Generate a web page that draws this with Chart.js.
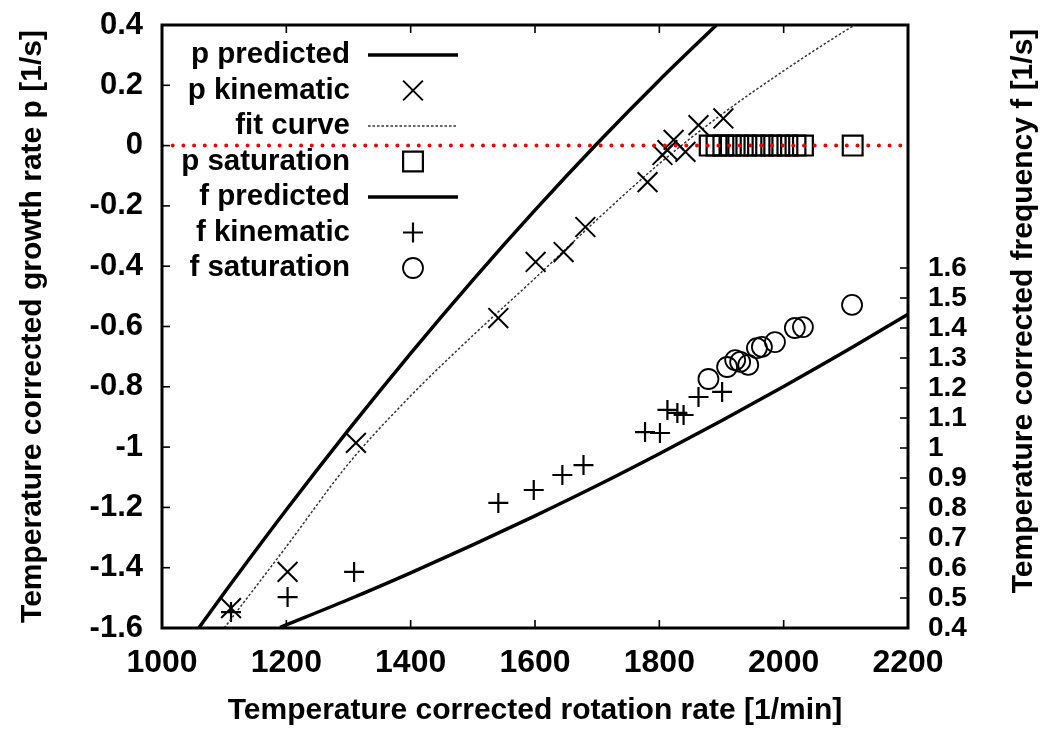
<!DOCTYPE html>
<html>
<head>
<meta charset="utf-8">
<script src="https://cdn.jsdelivr.net/npm/chart.js@4"></script>
<style>
    body {
        margin: 0;
        background: #ffffff;
    }

    #wrap {
        width: 1045px;
        height: 729px;
    }
</style>
</head>
<body>
<div id="wrap">
    <canvas id="growthChart"></canvas>
</div>
<script>

// rotation rate [1/min] vs growth rate p (left) and frequency f (right)

const rateTicks = [1000, 1200, 1400, 1600, 1800, 2000, 2200];
const growthTicks = [0.4, 0.2, 0, -0.2, -0.4, -0.6, -0.8, -1, -1.2, -1.4, -1.6];
const freqTicks = [0.4, 0.5, 0.6, 0.7, 0.8, 0.9, 1, 1.1, 1.2, 1.3, 1.4, 1.5, 1.6];

const pPredictedRate = [1050, 1100, 1200, 1300, 1400, 1500, 1600, 1700, 1800, 1900];
const pPredictedValue = [-1.626, -1.484, -1.208, -0.943, -0.689, -0.446, -0.214, 0.007, 0.217, 0.416];

const pKinematicRate = [1111, 1202, 1312, 1541, 1601, 1646, 1681, 1781, 1805, 1813, 1823, 1842, 1863, 1903];
const pKinematicValue = [-1.534, -1.414, -0.986, -0.572, -0.386, -0.353, -0.27, -0.121, -0.031, -0.015, 0.019, -0.021, 0.068, 0.09];

const fitRate = [1100, 1200, 1300, 1400, 1500, 1600, 1700, 1800, 1900, 2000, 2100, 2120];
const fitValue = [-1.6, -1.33, -1.055, -0.83, -0.63, -0.44, -0.245, -0.06, 0.103, 0.248, 0.382, 0.407];

const pSaturationRate = [1881, 1892, 1903, 1915, 1927, 1940, 1953, 1966, 1980, 1993, 2006, 2019, 2031, 2111];
const pSaturationValue = [0, 0, 0, 0, 0, 0, 0, 0, 0, 0, 0, 0, 0, 0];

const fPredictedRate = [1190, 1300, 1400, 1500, 1600, 1700, 1800, 1900, 2000, 2100, 2200];
const fPredictedValue = [0.402, 0.495, 0.584, 0.677, 0.774, 0.875, 0.981, 1.091, 1.205, 1.323, 1.446];

const fKinematicRate = [1111, 1202, 1309, 1541, 1598, 1644, 1678, 1777, 1801, 1813, 1829, 1839, 1863, 1901];
const fKinematicValue = [0.453, 0.503, 0.587, 0.817, 0.86, 0.91, 0.943, 1.053, 1.05, 1.127, 1.117, 1.11, 1.17, 1.187];

const fSaturationRate = [1879, 1909, 1922, 1930, 1943, 1957, 1965, 1986, 2018, 2031, 2110];
const fSaturationValue = [1.23, 1.27, 1.293, 1.287, 1.277, 1.333, 1.337, 1.353, 1.40, 1.403, 1.477];

const zeroLineRate = [1000, 2200];
const zeroLineValue = [0, 0];

const FONT = "'Liberation Sans', Arial, Helvetica, sans-serif";

function toPoints(xs, ys) {
    return xs.map((x, i) => ({ x: x, y: ys[i] }));
}

function tenths(v) {
    return String(Math.round(v * 10) / 10);
}

// gnuplot style frame, inward ticks, legend and right title
const framePlugin = {
    id: "framePlugin",

    afterDraw(chart) {
        const ctx = chart.ctx;
        const area = chart.chartArea;
        const xs = chart.scales.x;
        const yl = chart.scales.y;
        const yr = chart.scales.y2;

        ctx.save();
        ctx.strokeStyle = "#000";
        ctx.lineWidth = 1.6;

        rateTicks.forEach(v => {
            const px = xs.getPixelForValue(v);
            ctx.beginPath();
            ctx.moveTo(px, area.bottom);
            ctx.lineTo(px, area.bottom - 8);
            ctx.moveTo(px, area.top);
            ctx.lineTo(px, area.top + 8);
            ctx.stroke();
        });

        growthTicks.forEach(v => {
            const py = yl.getPixelForValue(v);
            ctx.beginPath();
            ctx.moveTo(area.left, py);
            ctx.lineTo(area.left + 8, py);
            ctx.stroke();
        });

        freqTicks.forEach(v => {
            const py = yr.getPixelForValue(v);
            ctx.beginPath();
            ctx.moveTo(area.right, py);
            ctx.lineTo(area.right - 8, py);
            ctx.stroke();
        });

        ctx.lineWidth = 3;
        ctx.strokeRect(
            area.left,
            area.top,
            area.right - area.left,
            area.bottom - area.top
        );

        // right axis title, reading bottom to top
        ctx.save();
        ctx.translate(1024, 311);
        ctx.rotate(-Math.PI / 2);
        ctx.fillStyle = "#000";
        ctx.font = "bold 30px " + FONT;
        ctx.textAlign = "center";
        ctx.textBaseline = "middle";
        ctx.fillText("Temperature corrected frequency f [1/s]", 0, 0);
        ctx.restore();

        // legend
        const rowTop = 55;
        const rowStep = 35.5;
        const textRight = 350;
        const sampleLeft = 368;
        const sampleRight = 458;
        const markX = 413;

        chart.data.datasets
            .filter(ds => ds.label)
            .forEach((ds, i) => {
                const y = rowTop + i * rowStep;

                ctx.fillStyle = "#000";
                ctx.font = "bold 29.5px " + FONT;
                ctx.textAlign = "right";
                ctx.textBaseline = "middle";
                ctx.fillText(ds.label, textRight, y);

                if (ds.showLine) {
                    ctx.save();
                    ctx.strokeStyle = ds.borderColor;
                    ctx.lineWidth = ds.borderWidth;
                    ctx.setLineDash(ds.borderDash || []);
                    ctx.beginPath();
                    ctx.moveTo(sampleLeft, y);
                    ctx.lineTo(sampleRight, y);
                    ctx.stroke();
                    ctx.restore();
                } else {
                    ctx.save();
                    ctx.strokeStyle = "#000";
                    ctx.fillStyle = "rgba(0,0,0,0)";
                    ctx.lineWidth = ds.borderWidth;
                    Chart.helpers.drawPoint(
                        ctx,
                        {
                            pointStyle: ds.pointStyle,
                            radius: ds.pointRadius,
                            rotation: 0,
                            borderWidth: ds.borderWidth
                        },
                        markX,
                        y
                    );
                    ctx.restore();
                }
            });

        ctx.restore();
    }
};

function lineSet(label, xs, ys, axis, width, dash, colour) {
    return {
        label: label,
        data: toPoints(xs, ys),
        yAxisID: axis,
        showLine: true,
        borderColor: colour,
        borderWidth: width,
        borderDash: dash,
        pointRadius: 0,
        cubicInterpolationMode: "monotone",
        fill: false
    };
}

function markSet(label, xs, ys, axis, style, radius, width) {
    return {
        label: label,
        data: toPoints(xs, ys),
        yAxisID: axis,
        showLine: false,
        pointStyle: style,
        pointRadius: radius,
        borderColor: "#000",
        backgroundColor: "rgba(0,0,0,0)",
        borderWidth: width
    };
}

const zeroLine = {
    label: "",
    data: toPoints(zeroLineRate, zeroLineValue),
    yAxisID: "y",
    showLine: true,
    borderColor: "#ee0000",
    borderWidth: 4,
    borderDash: [0, 10.7],
    borderCapStyle: "round",
    pointRadius: 0
};

function noLabelPadding(scale) {
    scale.paddingTop = 0;
    scale.paddingBottom = 0;
}

new Chart(
    document.getElementById("growthChart"),
    {
        type: "scatter",

        data: {
            datasets: [
                zeroLine,
                lineSet("p predicted", pPredictedRate, pPredictedValue, "y", 3.5, [], "#000"),
                markSet("p kinematic", pKinematicRate, pKinematicValue, "y", "crossRot", 14, 2),
                lineSet("fit curve", fitRate, fitValue, "y", 1.5, [2.5, 2], "#333"),
                markSet("p saturation", pSaturationRate, pSaturationValue, "y", "rect", 14, 2.2),
                lineSet("f predicted", fPredictedRate, fPredictedValue, "y2", 3.5, [], "#000"),
                markSet("f kinematic", fKinematicRate, fKinematicValue, "y2", "cross", 10, 2.2),
                markSet("f saturation", fSaturationRate, fSaturationValue, "y2", "circle", 10, 1.8)
            ]
        },

        options: {
            responsive: true,
            maintainAspectRatio: false,
            animation: false,
            layout: {
                padding: { top: 25, left: 0, right: 0, bottom: 0 }
            },
            plugins: {
                legend: { display: false },
                tooltip: { enabled: false }
            },
            scales: {
                x: {
                    type: "linear",
                    min: 1000,
                    max: 2200,
                    grid: { display: false, drawTicks: false },
                    border: { display: false },
                    ticks: {
                        stepSize: 200,
                        padding: 16,
                        color: "#000",
                        font: { family: FONT, size: 32, weight: "bold" },
                        callback: v => String(v)
                    },
                    title: {
                        display: true,
                        text: "Temperature corrected rotation rate [1/min]",
                        color: "#000",
                        font: { family: FONT, size: 30, weight: "bold" },
                        padding: { top: 4, bottom: 0 }
                    },
                    afterFit(scale) {
                        scale.height = 101;
                    }
                },
                y: {
                    position: "left",
                    min: -1.6,
                    max: 0.4,
                    grid: { display: false, drawTicks: false },
                    border: { display: false },
                    ticks: {
                        stepSize: 0.2,
                        padding: 19,
                        color: "#000",
                        font: { family: FONT, size: 31, weight: "bold" },
                        callback: v => tenths(v)
                    },
                    title: {
                        display: true,
                        text: "Temperature corrected growth rate p [1/s]",
                        color: "#000",
                        font: { family: FONT, size: 30, weight: "bold" },
                        padding: { top: 15, bottom: 0 }
                    },
                    afterFit(scale) {
                        scale.width = 162;
                        noLabelPadding(scale);
                    }
                },
                y2: {
                    position: "right",
                    min: 0.4,
                    max: 2.41,
                    grid: { display: false, drawTicks: false },
                    border: { display: false },
                    ticks: {
                        stepSize: 0.1,
                        maxTicksLimit: 40,
                        autoSkip: false,
                        padding: 20,
                        color: "#000",
                        font: { family: FONT, size: 28, weight: "bold" },
                        callback: v => (v <= 1.6001 ? tenths(v) : "")
                    },
                    afterFit(scale) {
                        scale.width = 137;
                        noLabelPadding(scale);
                    }
                }
            }
        },

        plugins: [framePlugin]
    }
);

</script>
</body>
</html>
